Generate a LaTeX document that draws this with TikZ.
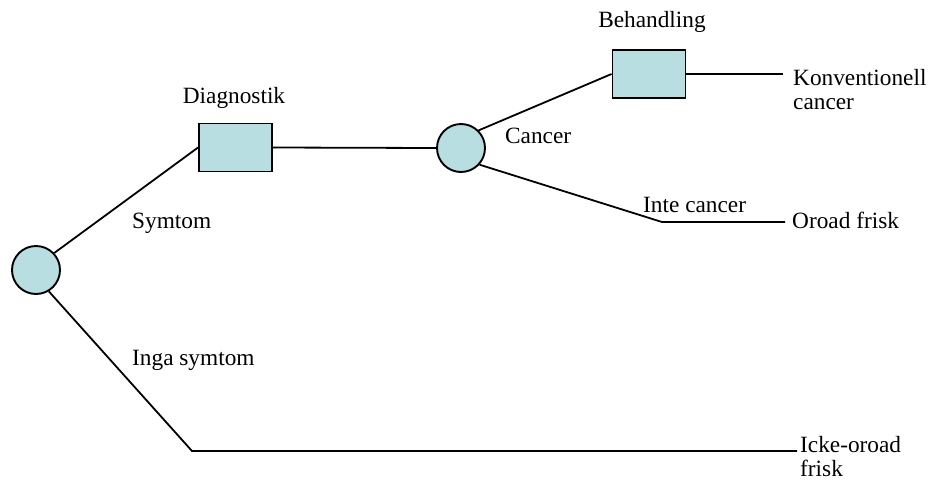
\documentclass[tikz,border=0pt]{standalone}
\usepackage{fontspec}
\setmainfont{Liberation Serif}
\definecolor{nodefill}{RGB}{184,222,226}
\begin{document}
\begin{tikzpicture}[x=1pt,y=-1pt,
  chance/.style={circle,draw=black,line width=1.9pt,fill=nodefill,minimum size=48pt,inner sep=0pt},
  decision/.style={rectangle,draw=black,line width=1.9pt,fill=nodefill,minimum width=73pt,minimum height=48pt,inner sep=0pt},
  conn/.style={line width=1.8pt,black},
  lbl/.style={font=\fontsize{23.3}{26}\selectfont,inner sep=0pt}]
\useasboundingbox (0,0) rectangle (931,482);
% nodes
\node[chance] (c1) at (36,270) {};
\node[decision] (d) at (235.5,147.5) {};
\node[chance] (c2) at (461,148) {};
\node[decision] (b) at (649,74) {};
% free ends
\coordinate (k1) at (662,222);
\coordinate (kend) at (785,222);
\coordinate (i1) at (192,451);
\coordinate (iend) at (797,451);
\coordinate (bend) at (783,74);
% connectors
\draw[conn] (c1.43) -- (d.west);
\draw[conn] (d.east) -- (c2.west);
\draw[conn] (c2.45) -- (b.west);
\draw[conn] (b.east) -- (bend);
\draw[conn] (c2.-42) -- (k1) -- (kend);
\draw[conn] (c1.-59) -- (i1) -- (iend);
% labels
\node[lbl,anchor=base] (tdiag) at (234,103) {Diagnostik};
\node[lbl,anchor=base] (tbeh) at (652,27) {Behandling};
\node[lbl,anchor=base west] (tcan) at (505,143) {Cancer};
\node[lbl,anchor=base west] (tinte) at (643,212) {Inte cancer};
\node[lbl,anchor=base west] (toroad) at (792,228) {Oroad frisk};
\node[lbl,anchor=base west] (tsym) at (132,228) {Symtom};
\node[lbl,anchor=base west] (tinga) at (132,365) {Inga symtom};
\node[lbl,anchor=base west] (tkon1) at (793,85) {Konventionell};
\node[lbl,anchor=base west] (tkon2) at (793,109) {cancer};
\node[lbl,anchor=base west] (ticke1) at (800,452) {Icke-oroad};
\node[lbl,anchor=base west] (ticke2) at (800,476) {frisk};
\end{tikzpicture}
\end{document}
